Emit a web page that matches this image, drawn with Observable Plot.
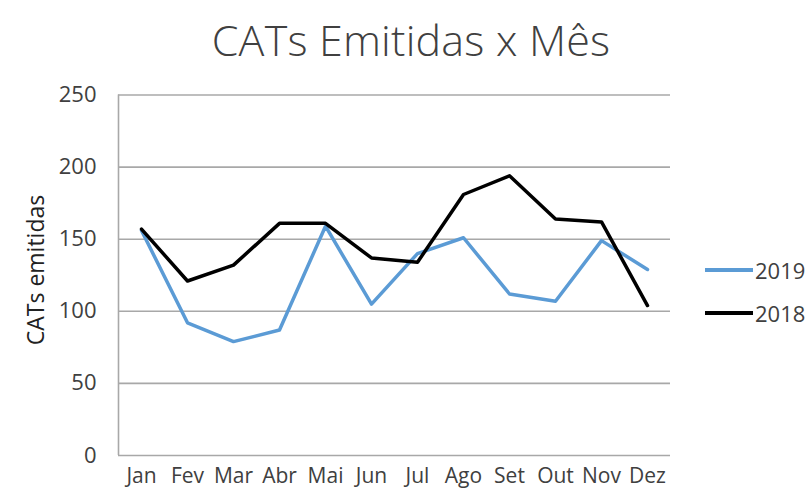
<!DOCTYPE html>
<html>
<head>
<meta charset="utf-8">
<script src="https://cdn.jsdelivr.net/npm/d3@7"></script>
<script src="https://cdn.jsdelivr.net/npm/@observablehq/plot@0.6"></script>
<style>
  html, body { margin: 0; padding: 0; background: #fff; }
  #wrap { position: relative; width: 808px; height: 496px; font-family: "Open Sans", sans-serif; }
  #title { height: 76px; line-height: 80px; text-align: center; font-size: 43px; font-weight: 300; color: #404040; padding-left: 14px; box-sizing: border-box; letter-spacing: 0.2px; }
  .leg { position: absolute; left: 705px; font-size: 22px; color: #404040; display: flex; align-items: center; }
  .leg span.sw { display: inline-block; width: 48px; height: 4px; margin-right: 2px; }
  #ylab { position: absolute; left: 35px; top: 270px; transform: translate(-50%, -50%) rotate(-90deg); font-size: 23px; color: #222; white-space: nowrap; }
</style>
</head>
<body>
<div id="wrap">
  <div id="title">CATs Emitidas x Mês</div>
  <div id="chart"></div>
  <div id="ylab">CATs emitidas</div>
  <div id="legend"></div>
</div>
<script>
const months = ["Jan","Fev","Mar","Abr","Mai","Jun","Jul","Ago","Set","Out","Nov","Dez"];
const values2019 = [156, 92, 79, 87, 159, 105, 140, 151, 112, 107, 149, 129];
const values2018 = [157, 121, 132, 161, 161, 137, 134, 181, 194, 164, 162, 104];
const yTicks = [0, 50, 100, 150, 200, 250];
const series = [
  {name: "2019", values: values2019, color: "#5B9BD5"},
  {name: "2018", values: values2018, color: "#000000"}
];

const data = series.flatMap(s => s.values.map((v, i) => ({series: s.name, i, month: months[i], value: v})));

const chart = Plot.plot({
  width: 808,
  height: 420,
  marginLeft: 118,
  marginRight: 138,
  marginTop: 18.5,
  marginBottom: 41,
  style: {fontFamily: "'Open Sans', sans-serif", fontSize: "20px", color: "#404040", background: "#fff"},
  x: {type: "linear", domain: [-0.5, months.length - 0.5], label: null},
  y: {domain: [0, 250], label: null},
  color: {domain: series.map(s => s.name), range: series.map(s => s.color)},
  marks: [
    Plot.ruleY(yTicks, {stroke: "#a8a8a8", strokeWidth: 1.6}),
    Plot.ruleX([-0.5], {stroke: "#a8a8a8", strokeWidth: 1.6}),
    Plot.line(data, {x: "i", y: "value", z: "series", stroke: "series", strokeWidth: 3.5, strokeLinejoin: "round"}),
    Plot.axisX({ticks: d3.range(months.length), tickFormat: i => months[i], tickSize: 0, tickPadding: 13, fontSize: 21, label: null}),
    Plot.axisY({ticks: yTicks, tickSize: 0, tickPadding: 22, fontSize: 22, label: null})
  ]
});
document.getElementById("chart").appendChild(chart);

const legend = document.getElementById("legend");
const legTops = [255, 298];
series.forEach((s, k) => {
  const d = document.createElement("div");
  d.className = "leg";
  d.style.top = legTops[k] + "px";
  d.innerHTML = `<span class="sw" style="background:${s.color}"></span><span>${s.name}</span>`;
  legend.appendChild(d);
});
</script>
</body>
</html>
